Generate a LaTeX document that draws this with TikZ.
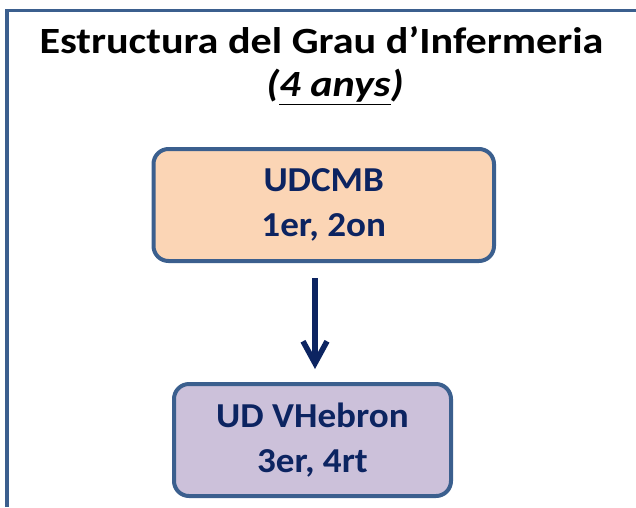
\documentclass[tikz,border=0pt]{standalone}
\usepackage{fontspec}
\setmainfont{Carlito}
\newfontfamily\titlefont[FakeStretch=1.14]{Carlito}
\newfontfamily\boxfont[FakeStretch=1.06]{Carlito}
\usetikzlibrary{arrows.meta}
\definecolor{frameblue}{HTML}{3B5F8E}
\definecolor{navy}{HTML}{0C2461}
\definecolor{peach}{HTML}{FBD5B5}
\definecolor{lilac}{HTML}{CCC1DA}
\tikzset{
  unitbox/.style={draw=frameblue, line width=4pt, rounded corners=15pt, align=center,
    text=navy, font=\boxfont\fontsize{35}{45}\selectfont\bfseries, minimum height=112pt, inner sep=0pt},
  arr/.style={draw=navy, line width=5.5pt, -{Straight Barb[length=22pt,width=24pt]}},
  framestyle/.style={draw=frameblue, line width=3.5pt},
  titletext/.style={font=\titlefont\fontsize{37}{46}\selectfont\bfseries, anchor=base, inner sep=0pt}
}
\begin{document}
\begin{tikzpicture}[x=1pt,y=-1pt]
\useasboundingbox (0,0) rectangle (636,507);
\draw[framestyle] (7,507) -- (7,10.5) -- (636,10.5);
\node[titletext] (title) at (321.5,53) {Estructura del Grau d’Infermeria};
\node[titletext, font=\titlefont\fontsize{37}{46}\selectfont\bfseries\itshape] (sub) at (335,96.5) {(\underline{4 anys})};
\node[unitbox, fill=peach, minimum width=340.5pt] (b1) at (323.75,205) {UDCMB\\1er, 2on};
\node[unitbox, fill=lilac, minimum width=277pt] (b2) at (312.5,440) {UD VHebron\\3er, 4rt};
\coordinate (ax) at (315,0);
\draw[arr, shorten <=15pt, shorten >=13pt] (b1.south -| ax) -- (b2.north -| ax);
\end{tikzpicture}
\end{document}
